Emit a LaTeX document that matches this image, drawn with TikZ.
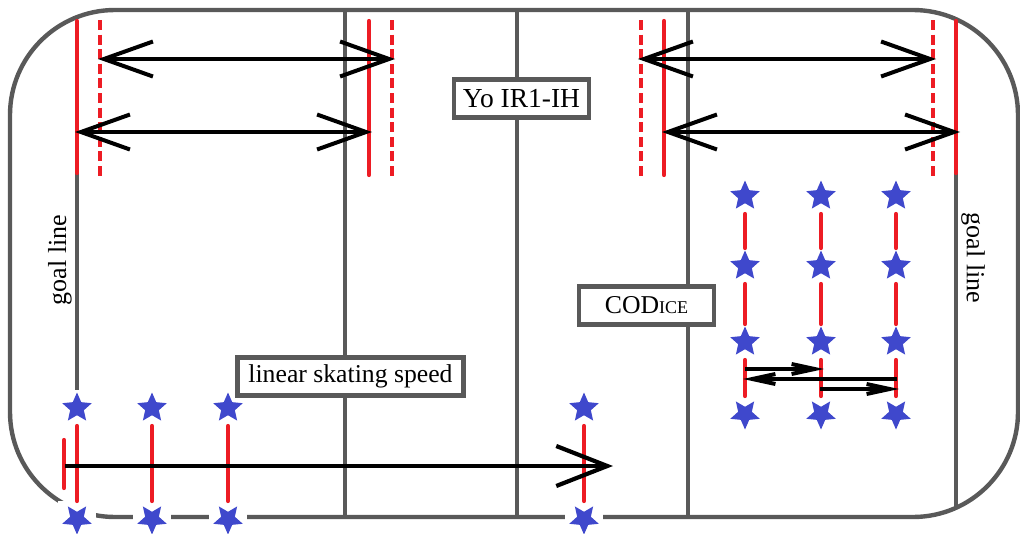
\documentclass[tikz,border=0pt]{standalone}
\usepackage{fontspec}
\setmainfont{Liberation Serif}
\usetikzlibrary{shapes.geometric,arrows.meta}
\definecolor{rinkgrey}{HTML}{595959}
\definecolor{linered}{HTML}{ED1C24}
\definecolor{starblue}{HTML}{3F48CC}
\tikzset{
  rink/.style={draw=rinkgrey,line width=4.4pt},
  redline/.style={draw=linered,line width=4.2pt,line cap=round},
  reddash/.style={redline,line cap=butt,dash pattern=on 10pt off 4.6pt},
  bigarrow/.style={draw=black,line width=4pt,{Straight Barb[length=49pt,width=35pt,line width=4pt]}-{Straight Barb[length=49pt,width=35pt,line width=4pt]}},
  longarrow/.style={draw=black,line width=4.2pt,-{Straight Barb[length=51pt,width=40pt,line width=4.2pt]}},
  smallarrow/.style={draw=black,line width=4pt,-{Straight Barb[length=23pt,width=10pt,line width=4pt]}},
  halo/.style={fill=white,draw=none,minimum width=38pt,minimum height=36pt,inner sep=0pt,outer sep=0pt},
  starmark/.style={star,star points=5,star point ratio=2.15,fill=starblue,draw=none,minimum size=31pt,inner sep=0pt},
  labelbox/.style={draw=rinkgrey,line width=4.4pt,fill=white,inner sep=0pt,font=\fontsize{25.7}{28}\selectfont,align=center},
  sidelabel/.style={font=\fontsize{26}{28}\selectfont,inner sep=0pt}
}
\newcommand{\upstar}[3]{\node[halo] (#1) at (#2,#3) {}; \node[starmark] (#1m) at (#2,#3) {};}
\newcommand{\dnstar}[3]{\node[halo] (#1) at (#2,#3) {}; \node[starmark,shape border rotate=180] (#1m) at (#2,#3) {};}
\begin{document}
\begin{tikzpicture}[x=1pt,y=-1pt]
\useasboundingbox (0,0) rectangle (1020,533);
% rink
\draw[rink,rounded corners=105pt] (10,10) rectangle (1018,517);
\coordinate (ta) at (345,10); \coordinate (ba) at (345,517);
\coordinate (tb) at (517,10); \coordinate (bb) at (517,517);
\coordinate (tc) at (688,10); \coordinate (bc) at (688,517);
\draw[rink] (ta)--(ba) (tb)--(bb) (tc)--(bc);
\coordinate (gl1) at (77,173); \coordinate (gl2) at (77,408);
\coordinate (gr1) at (956,173); \coordinate (gr2) at (956,508);
\draw[rink,line width=3.8pt] (gl1)--(gl2) (gr1)--(gr2);
% stars
\upstar{a1}{77}{408} \dnstar{a2}{77}{519}
\upstar{b1}{152}{408} \dnstar{b2}{152}{519}
\upstar{c1}{228}{408} \dnstar{c2}{228}{519}
\upstar{d1}{584}{408} \dnstar{d2}{584}{519}
\upstar{e1}{745}{196} \upstar{e2}{745}{266} \upstar{e3}{745}{342} \dnstar{e4}{745}{414}
\upstar{f1}{821}{196} \upstar{f2}{821}{266} \upstar{f3}{821}{342} \dnstar{f4}{821}{414}
\upstar{g1}{896}{196} \upstar{g2}{896}{266} \upstar{g3}{896}{342} \dnstar{g4}{896}{414}
% red timing lines between stars
\draw[redline] (a1)--(a2); \draw[redline] (b1)--(b2); \draw[redline] (c1)--(c2); \draw[redline] (d1)--(d2);
\draw[redline] (e1)--(e2); \draw[redline] (e2)--(e3); \draw[redline] (e3)--(e4);
\draw[redline] (f1)--(f2); \draw[redline] (f2)--(f3); \draw[redline] (f3)--(f4);
\draw[redline] (g1)--(g2); \draw[redline] (g2)--(g3); \draw[redline] (g3)--(g4);
% red gates
\coordinate (r1t) at (77,21); \coordinate (r1b) at (77,173);
\coordinate (r2t) at (100,20); \coordinate (r2b) at (100,176);
\coordinate (r3t) at (369,21); \coordinate (r3b) at (369,175);
\coordinate (r4t) at (392,20); \coordinate (r4b) at (392,176);
\coordinate (r5t) at (641,20); \coordinate (r5b) at (641,176);
\coordinate (r6t) at (664,21); \coordinate (r6b) at (664,175);
\coordinate (r7t) at (933,20); \coordinate (r7b) at (933,176);
\coordinate (r8t) at (956,21); \coordinate (r8b) at (956,173);
\coordinate (r9t) at (64,440); \coordinate (r9b) at (64,488);
\draw[redline] (r1t)--(r1b); \draw[redline] (r3t)--(r3b); \draw[redline] (r6t)--(r6b); \draw[redline] (r8t)--(r8b); \draw[redline] (r9t)--(r9b);
\draw[reddash] (r2t)--(r2b); \draw[reddash] (r4t)--(r4b); \draw[reddash] (r5t)--(r5b); \draw[reddash] (r7t)--(r7b);
% arrows
\coordinate (p1) at (98,59); \coordinate (p2) at (395,59);
\coordinate (p3) at (75,132); \coordinate (p4) at (372,132);
\coordinate (p5) at (638,59); \coordinate (p6) at (936,59);
\coordinate (p7) at (662,132); \coordinate (p8) at (960,132);
\draw[bigarrow] (p1)--(p2); \draw[bigarrow] (p3)--(p4); \draw[bigarrow] (p5)--(p6); \draw[bigarrow] (p7)--(p8);
\coordinate (q1) at (65,466); \coordinate (q2) at (613,466);
\draw[longarrow] (q1)--(q2);
\coordinate (s1) at (745,369); \coordinate (s2) at (824,369);
\coordinate (s3) at (897,379); \coordinate (s4) at (743,379);
\coordinate (s5) at (820,389); \coordinate (s6) at (899,389);
\draw[smallarrow] (s1)--(s2); \draw[smallarrow] (s3)--(s4); \draw[smallarrow] (s5)--(s6);
% labels
\node[labelbox,minimum width=135pt,minimum height=38pt,font=\fontsize{27.5}{29}\selectfont] (yo) at (521.5,98.5) {Yo IR1-IH};
\node[labelbox,minimum width=135pt,minimum height=38pt] (cod) at (646.5,305.5) {COD{\fontsize{18}{20}\selectfont ICE}};
\node[labelbox,minimum width=226pt,minimum height=38pt] (lin) at (350.5,376.5) {linear skating speed};
\node[sidelabel,rotate=90] (gll) at (60,260) {goal line};
\node[sidelabel,rotate=-90] (glr) at (973,258) {goal line};
\end{tikzpicture}
\end{document}
